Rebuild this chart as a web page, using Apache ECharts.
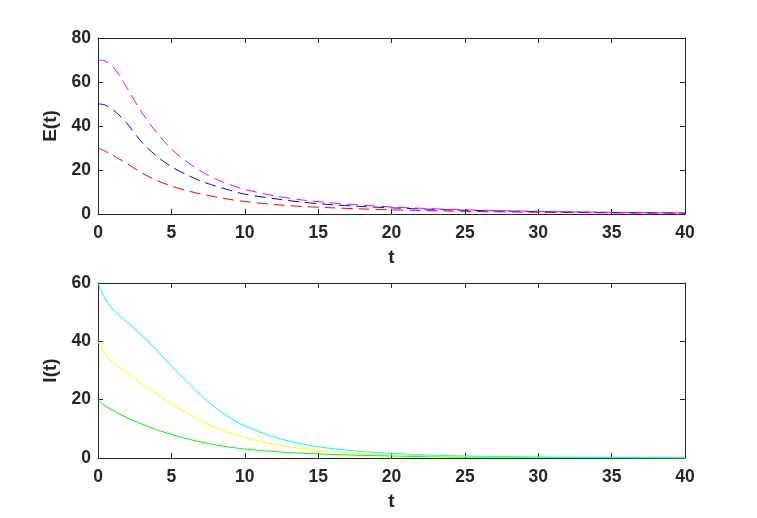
<!DOCTYPE html>
<html>
<head>
<meta charset="utf-8">
<script src="https://cdn.jsdelivr.net/npm/echarts@6/dist/echarts.min.js"></script>
<style>
  html, body { margin: 0; padding: 0; background: #fff; }
  #main { width: 757px; height: 518px; }
</style>
</head>
<body>
<div id="main"></div>
<script>
// time points (shared by both panels)
var tVals = [0, 0.25, 0.5, 1, 1.5, 2, 3, 4, 5, 6, 7, 8, 9, 10, 12, 14, 16, 18, 20, 22, 25, 30, 35, 40];

// E(t), top panel (dashed)
var eMagenta = [70, 69.9, 69.5, 67, 62.5, 57, 46, 37, 29.5, 24, 19.5, 16, 13.3, 11.2, 8.3, 6.3, 5, 4, 3.2, 2.6, 1.9, 1.2, 0.8, 0.5];
var eBlue    = [50, 49.9, 49.5, 47.5, 44.5, 41, 32.5, 26.3, 21.5, 18, 15, 12.7, 10.8, 9, 7, 5.3, 4.2, 3.4, 2.8, 2.3, 1.7, 1.1, 0.7, 0.45];
var eRed     = [30, 29.3, 28.5, 26.7, 24.8, 22.8, 18.6, 15.3, 12.7, 10.7, 9.1, 7.8, 6.6, 5.7, 4.3, 3.4, 2.8, 2.3, 1.9, 1.6, 1.2, 0.8, 0.5, 0.35];

// I(t), bottom panel (solid)
var iCyan   = [60, 57, 54.5, 51, 48.7, 46.5, 42, 37, 31.5, 26.5, 21.5, 17.3, 13.8, 11, 7.2, 4.7, 3.2, 2.2, 1.6, 1.1, 0.7, 0.35, 0.2, 0.1];
var iYellow = [40, 37.5, 35.5, 33, 31, 29.2, 25.5, 22, 18.7, 15.6, 12.8, 10.4, 8.5, 7, 4.7, 3.2, 2.2, 1.5, 1.1, 0.8, 0.5, 0.25, 0.12, 0.06];
var iGreen  = [20, 18.8, 17.8, 16.4, 15, 13.8, 11.6, 9.7, 8.1, 6.7, 5.5, 4.5, 3.7, 3.1, 2.2, 1.6, 1.2, 0.9, 0.7, 0.5, 0.35, 0.2, 0.1, 0.05];

var axisColor = '#262626';
var labelFont = { color: axisColor, fontFamily: 'Liberation Sans, Arial, sans-serif', fontWeight: 'bold', fontSize: 17.5 };

function pairs(ys) {
  return tVals.map(function (t, i) { return [t, ys[i]]; });
}

// main axis with labels, or a mirror axis (top/right) with only inner ticks
function xAx(grid, mirror) {
  return {
    type: 'value', gridIndex: grid, min: 0, max: 40, interval: 5,
    position: mirror ? 'top' : 'bottom',
    name: mirror ? '' : 't', nameLocation: 'middle', nameGap: 34,
    nameTextStyle: Object.assign({}, labelFont, { fontSize: 19 }),
    axisLine: { show: true, onZero: false, lineStyle: { color: axisColor, width: 1 } },
    axisTick: { show: true, inside: true, length: 5, lineStyle: { color: axisColor } },
    axisLabel: Object.assign({ show: !mirror, margin: 10 }, labelFont),
    splitLine: { show: false }
  };
}
function yAx(grid, max, name, mirror) {
  return {
    type: 'value', gridIndex: grid, min: 0, max: max, interval: 20,
    position: mirror ? 'right' : 'left',
    name: mirror ? '' : name, nameLocation: 'middle', nameGap: 31, nameRotate: 90,
    nameTextStyle: Object.assign({}, labelFont, { fontSize: 19 }),
    axisLine: { show: true, onZero: false, lineStyle: { color: axisColor, width: 1 } },
    axisTick: { show: true, inside: true, length: 5, lineStyle: { color: axisColor } },
    axisLabel: Object.assign({ show: !mirror, margin: 7 }, labelFont),
    splitLine: { show: false }
  };
}
function line(name, ys, color, ax, dashed) {
  return {
    name: name, type: 'line', xAxisIndex: ax, yAxisIndex: ax,
    data: pairs(ys), smooth: 0.3, showSymbol: false, symbol: 'none',
    lineStyle: { color: color, width: 1, type: dashed ? [11, 6] : 'solid' },
    z: 1
  };
}

var chart = echarts.init(document.getElementById('main'));
chart.setOption({
  animation: false,
  backgroundColor: '#fff',
  grid: [
    { left: 98, right: 72, top: 38, height: 176 },
    { left: 98, right: 72, top: 283, height: 175 }
  ],
  xAxis: [xAx(0, false), xAx(1, false), xAx(0, true), xAx(1, true)],
  yAxis: [yAx(0, 80, 'E(t)', false), yAx(1, 60, 'I(t)', false), yAx(0, 80, '', true), yAx(1, 60, '', true)],
  series: [
    line('E1', eRed, '#ff0000', 0, true),
    line('E2', eBlue, '#0000ff', 0, true),
    line('E3', eMagenta, '#ff00ff', 0, true),
    line('I1', iGreen, '#00ff00', 1, false),
    line('I2', iYellow, '#ffff00', 1, false),
    line('I3', iCyan, '#00ffff', 1, false)
  ]
});
</script>
</body>
</html>
